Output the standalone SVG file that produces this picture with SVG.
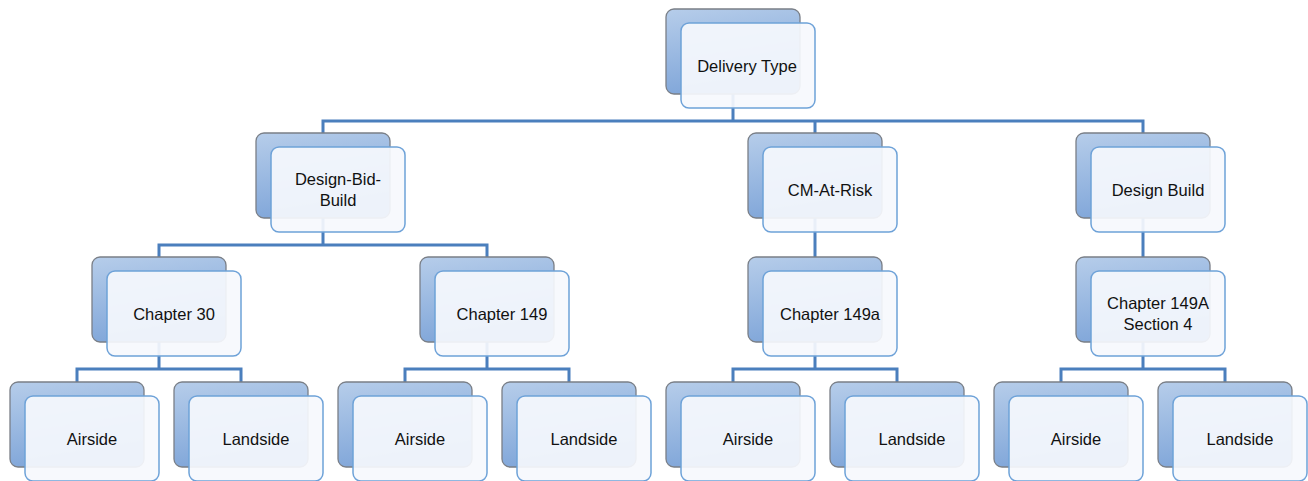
<svg xmlns="http://www.w3.org/2000/svg" width="1308" height="481" viewBox="0 0 1308 481">
<defs>
<linearGradient id="g" x1="0" y1="0" x2="0.25" y2="1">
<stop offset="0" stop-color="#b6cdea"/>
<stop offset="1" stop-color="#80a6d9"/>
</linearGradient>
<style>
.b{fill:url(#g);stroke:#7a7f87;stroke-width:1.3}
.f{fill:#f6f9fd;fill-opacity:0.92;stroke:#6ea2d8;stroke-width:1.5}
.t{font-family:"Liberation Sans",Arial,sans-serif;font-size:16.5px;fill:#111;text-anchor:middle}
.c{fill:none;stroke:#4b7fbd;stroke-width:3}
</style>
</defs>
<rect width="1308" height="481" fill="#fff"/>
<g id="connectors" class="c">
<path d="M733,94V121M323,133V121H1143V133M815,121V133"/>
<path d="M323,218V245M159,257V245H487V257"/>
<path d="M815,218V257"/>
<path d="M1143,218V257"/>
<path d="M159,342V369M77,382V369H241V382"/>
<path d="M487,342V369M405,382V369H569V382"/>
<path d="M815,342V369M733,382V369H897V382"/>
<path d="M1143,342V369M1061,382V369H1225V382"/>
</g>
<g id="n-delivery"><rect class="b" x="666" y="9" width="134" height="85" rx="8"/><rect class="f" x="681" y="23" width="134" height="85" rx="8"/><text class="t" x="747" y="72">Delivery Type</text></g>
<g id="n-dbb"><rect class="b" x="256" y="133" width="134" height="85" rx="8"/><rect class="f" x="271" y="147" width="134" height="85" rx="8"/><text class="t" x="338" y="185">Design-Bid-</text><text class="t" x="338" y="206">Build</text></g>
<g id="n-cmar"><rect class="b" x="748" y="133" width="134" height="85" rx="8"/><rect class="f" x="763" y="147" width="134" height="85" rx="8"/><text class="t" x="830" y="196">CM-At-Risk</text></g>
<g id="n-db"><rect class="b" x="1076" y="133" width="134" height="85" rx="8"/><rect class="f" x="1091" y="147" width="134" height="85" rx="8"/><text class="t" x="1158" y="196">Design Build</text></g>
<g id="n-ch30"><rect class="b" x="92" y="257" width="134" height="85" rx="8"/><rect class="f" x="107" y="271" width="134" height="85" rx="8"/><text class="t" x="174" y="320">Chapter 30</text></g>
<g id="n-ch149"><rect class="b" x="420" y="257" width="134" height="85" rx="8"/><rect class="f" x="435" y="271" width="134" height="85" rx="8"/><text class="t" x="502" y="320">Chapter 149</text></g>
<g id="n-ch149a"><rect class="b" x="748" y="257" width="134" height="85" rx="8"/><rect class="f" x="763" y="271" width="134" height="85" rx="8"/><text class="t" x="830" y="320">Chapter 149a</text></g>
<g id="n-ch149A"><rect class="b" x="1076" y="257" width="134" height="85" rx="8"/><rect class="f" x="1091" y="271" width="134" height="85" rx="8"/><text class="t" x="1158" y="309">Chapter 149A</text><text class="t" x="1158" y="330">Section 4</text></g>
<g id="n-air1"><rect class="b" x="10" y="382" width="134" height="85" rx="8"/><rect class="f" x="25" y="396" width="134" height="85" rx="8"/><text class="t" x="92" y="445">Airside</text></g>
<g id="n-land1"><rect class="b" x="174" y="382" width="134" height="85" rx="8"/><rect class="f" x="189" y="396" width="134" height="85" rx="8"/><text class="t" x="256" y="445">Landside</text></g>
<g id="n-air2"><rect class="b" x="338" y="382" width="134" height="85" rx="8"/><rect class="f" x="353" y="396" width="134" height="85" rx="8"/><text class="t" x="420" y="445">Airside</text></g>
<g id="n-land2"><rect class="b" x="502" y="382" width="134" height="85" rx="8"/><rect class="f" x="517" y="396" width="134" height="85" rx="8"/><text class="t" x="584" y="445">Landside</text></g>
<g id="n-air3"><rect class="b" x="666" y="382" width="134" height="85" rx="8"/><rect class="f" x="681" y="396" width="134" height="85" rx="8"/><text class="t" x="748" y="445">Airside</text></g>
<g id="n-land3"><rect class="b" x="830" y="382" width="134" height="85" rx="8"/><rect class="f" x="845" y="396" width="134" height="85" rx="8"/><text class="t" x="912" y="445">Landside</text></g>
<g id="n-air4"><rect class="b" x="994" y="382" width="134" height="85" rx="8"/><rect class="f" x="1009" y="396" width="134" height="85" rx="8"/><text class="t" x="1076" y="445">Airside</text></g>
<g id="n-land4"><rect class="b" x="1158" y="382" width="134" height="85" rx="8"/><rect class="f" x="1173" y="396" width="134" height="85" rx="8"/><text class="t" x="1240" y="445">Landside</text></g>
</svg>
